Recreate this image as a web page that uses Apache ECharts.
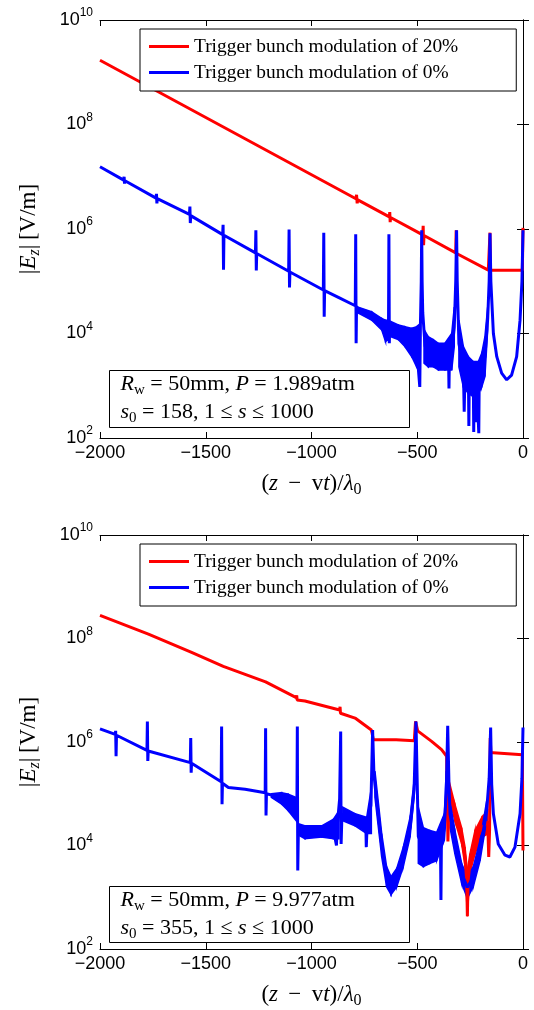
<!DOCTYPE html>
<html><head><meta charset="utf-8">
<script src="https://cdn.jsdelivr.net/npm/echarts@6.0.0/dist/echarts.min.js"></script>
<style>html,body{margin:0;padding:0;background:#fff}#c{width:534px;height:1010px}</style>
</head><body><div id="c"></div>
<script>
// ---------------- data ----------------
const seriesNames = ['Trigger bunch modulation of 20%', 'Trigger bunch modulation of 0%'];
const xTickStep = 500;
const pressures = ['1.989', '9.977'];
const s0Values = ['158', '355'];

const topRed = [
  [-2000, 1.7e9],
  [-790, 3.8e6], [-787, 4.5e6], [-784, 3.1e6], [-781, 3.6e6],
  [-632, 1.71e6], [-630, 2.1e6], [-628, 1.35e6], [-626, 1.66e6],
  [-474, 7.7e5], [-472, 1.15e6], [-470, 4.9e5], [-468, 7.5e5],
  [-318, 3.5e5], [-316, 9.5e5], [-314, 3.4e5], [-312, 3.4e5],
  [-164, 1.63e5],
  [-158, 1.63e5], [-156, 8.5e5], [-154, 1.63e5],
  [-3, 1.63e5], [0, 1.05e6]
];
const topBlue = [
  [-2000, 1.55e7],
  [-1888, 8.6e6], [-1886, 1.0e7], [-1884, 7.4e6], [-1882, 8.4e6],
  [-1735, 3.9e6], [-1733, 4.7e6], [-1731, 3.1e6], [-1729, 3.8e6],
  [-1577, 1.9e6], [-1575, 2.7e6], [-1573, 1.3e6], [-1571, 1.8e6],
  [-1420, 7.8e5], [-1418, 1.2e6], [-1416, 1.66e5], [-1414, 7.6e5],
  [-1265, 3.5e5], [-1263, 9.5e5], [-1261, 1.6e5], [-1259, 3.4e5],
  [-1108, 1.55e5], [-1106, 9.8e5], [-1104, 7.6e4], [-1102, 1.5e5],
  [-944, 6.8e4], [-942, 8.5e5], [-940, 2.1e4], [-938, 6.6e4],
  [-873, 4.9e4],
  [-793, 3.4e4], [-791, 7.9e5], [-789, 6.5e3], [-787, 3.3e4],
  [-779, 2.8e4], [-715, 2.3e4], [-668, 1.5e4], [-650, 1.1e4],
  [-636, 1.2e4], [-634, 7.9e5], [-632, 6.5e3], [-630, 1.4e4],
  [-621, 1.3e4], [-589, 1.1e4], [-558, 9e3], [-526, 7e3], [-503, 5.5e3],
  [-488, 9.5e2], [-485, 1.5e4], [-481, 1e5], [-479, 9.5e5], [-477, 1e5], [-474, 2.5e4],
  [-463, 5.7e3], [-448, 4.5e3], [-424, 4.2e3], [-400, 3.6e3], [-369, 3.6e3],
  [-352, 3.4e3], [-350, 8.9e2], [-348, 3.4e3],
  [-337, 4.5e3], [-325, 1.3e4], [-318, 1e5], [-314, 9.5e5], [-311, 1e5], [-303, 6.4e3],
  [-282, 2.3e3], [-278, 3.2e2], [-274, 2.0e3], [-258, 1.5e3], [-256, 1.7e2], [-254, 1.5e3],
  [-235, 1.35e3], [-233, 1.3e2], [-231, 1.35e3], [-224, 1.4e3], [-222, 2e2], [-220, 1.4e3],
  [-211, 1.4e3], [-209, 1.23e2], [-207, 1.5e3],
  [-195, 2e3], [-180, 3.6e3], [-167, 1.9e4], [-160, 1e5], [-156, 8.3e5], [-152, 1e5],
  [-140, 1e4], [-124, 3.6e3], [-101, 1.74e3], [-77, 1.3e3], [-54, 1.6e3], [-30, 3.6e3],
  [-14, 1.8e4], [-5, 1e5], [0, 9.5e5]
];
const topBlueBands = [
  [[-779, 2.45e4, 3.2e4], [-715, 1.8e4, 2.6e4], [-668, 1.17e4, 1.95e4], [-650, 7e3, 1.8e4], [-640, 7.5e3, 1.8e4]],
  [[-625, 8.7e3, 1.7e4], [-589, 7.6e3, 1.45e4], [-558, 5.6e3, 1.35e4], [-526, 3.6e3, 1.26e4], [-503, 2.3e3, 1.35e4], [-490, 2.0e3, 1.5e4]],
  [[-468, 2.7e3, 1.2e4], [-448, 2.3e3, 8.7e3], [-424, 2.3e3, 7.6e3], [-400, 2.0e3, 6.5e3], [-369, 2.0e3, 6.5e3], [-337, 2.0e3, 1.0e4], [-325, 5.6e3, 3.2e4]],
  [[-303, 2.3e3, 1.8e4], [-282, 9.5e2, 5.6e3], [-258, 7.1e2, 3.6e3], [-235, 6.2e2, 2.9e3], [-211, 7.1e2, 2.9e3], [-195, 9.5e2, 4.2e3], [-180, 1.5e3, 8.7e3], [-167, 1.17e4, 3.2e4]]
];

const bottomRed = [
  [-2000, 2.8e8], [-1771, 1.22e8], [-1567, 5.4e7], [-1417, 2.9e7], [-1217, 1.45e7],
  [-1072, 7.2e6], [-1070, 8e6], [-1068, 6.5e6],
  [-1031, 6.2e6],
  [-867, 4.15e6], [-865, 4.8e6], [-863, 3.6e6],
  [-794, 2.9e6], [-717, 1.7e6], [-713, 1.45e6], [-708, 1.1e6],
  [-600, 1.1e6], [-514, 1.06e6], [-508, 2.5e6], [-498, 1.64e6],
  [-432, 1.03e6], [-385, 7.1e5], [-361, 5.3e5], [-355, 1.2e4], [-349, 1.2e5],
  [-345, 1.0e5], [-322, 4.4e4], [-290, 1.45e4], [-274, 6e3], [-266, 2e3], [-263, 4.3e2], [-260, 2e3],
  [-251, 4.5e3], [-227, 1.1e4], [-195, 2.2e4], [-167, 2.9e4], [-162, 6e3], [-158, 2e4], [-155, 1.2e6], [-152, 6.2e5],
  [-140, 6.2e5], [-3, 5.7e5], [0, 8e3]
];
const bottomRedBands = [
  [[-345, 7.2e4, 1.5e5], [-322, 3.0e4, 6.3e4], [-290, 1.07e4, 2.2e4], [-274, 3.9e3, 9.3e3], [-263, 4.3e2, 3.3e3], [-251, 2.9e3, 6.9e3], [-227, 6.9e3, 1.95e4], [-195, 1.45e4, 3.5e4], [-167, 1.66e4, 4.7e4]]
];
const bottomBlue = [
  [-2000, 1.8e6],
  [-1928, 1.4e6], [-1926, 1.64e6], [-1924, 5.3e5], [-1922, 1.35e6],
  [-1778, 6.9e5], [-1776, 2.5e6], [-1774, 4.3e5], [-1772, 6.7e5],
  [-1573, 4.0e5], [-1571, 1.19e6], [-1569, 2.55e5], [-1567, 3.9e5],
  [-1427, 1.7e5], [-1425, 2.0e6], [-1423, 6.3e4], [-1421, 1.6e5],
  [-1393, 1.32e5], [-1314, 1.22e5],
  [-1219, 1.05e5], [-1217, 1.85e6], [-1215, 3.8e4], [-1213, 1.0e5],
  [-1173, 9.1e4], [-1141, 8.1e4], [-1110, 6.8e4], [-1078, 5.0e4],
  [-1069, 6.0e4], [-1067, 2.0e6], [-1065, 3.3e3], [-1062, 2.0e4],
  [-1031, 1.8e4], [-952, 1.87e4], [-897, 2.1e4], [-882, 1.0e4], [-878, 2.5e4], [-867, 8e4], [-862, 1.6e6], [-860, 1.07e4], [-856, 4e4],
  [-794, 3.1e4], [-743, 2.4e4], [-741, 9.3e3], [-737, 2.4e4], [-719, 6e4], [-711, 1.7e6], [-705, 2.5e5],
  [-700, 1.5e5], [-668, 1e4], [-645, 2.5e3], [-624, 1.7e3], [-597, 2.4e3], [-566, 6e3], [-534, 2.2e4], [-515, 1.2e5], [-506, 2.5e6], [-500, 1.5e5],
  [-495, 1.5e4], [-471, 9e3], [-440, 9e3], [-408, 9.5e3], [-390, 9.5e3], [-388, 8.9e2], [-386, 9.5e3], [-372, 2.3e4], [-363, 1e5], [-356, 2.05e6], [-350, 1.5e5],
  [-345, 4e4], [-322, 1.2e4], [-290, 2.9e3], [-263, 1.55e3], [-235, 2.5e3], [-203, 8e3], [-172, 4.6e4], [-160, 2e5], [-153, 1.9e6], [-148, 1.5e5],
  [-140, 4.1e4], [-117, 1.07e4], [-85, 6.5e3], [-62, 6e3], [-38, 9.3e3], [-14, 4.1e4], [-5, 2e5], [0, 1.9e6]
];
const bottomBlueBands = [
  [[-1190, 8.5e4, 1.0e5], [-1141, 6.3e4, 1.05e5], [-1110, 4.7e4, 9.8e4], [-1072, 3.0e4, 8.5e4]],
  [[-1058, 1.56e4, 2.6e4], [-1031, 1.35e4, 2.4e4], [-952, 1.45e4, 2.4e4], [-897, 1.35e4, 3.2e4], [-870, 1.35e4, 4.7e4]],
  [[-852, 3.0e4, 5.5e4], [-794, 2.4e4, 4.1e4], [-739, 1.7e4, 3.5e4], [-717, 1.7e4, 1.3e5]],
  [[-700, 8.5e4, 2.75e5], [-668, 6e3, 1.7e4], [-645, 1.6e3, 3.9e3], [-624, 1.12e3, 2.5e3], [-597, 1.6e3, 3.6e3], [-566, 3.9e3, 9.3e3], [-534, 1.45e4, 3.5e4], [-515, 8.5e4, 1.8e5]],
  [[-495, 4.5e3, 5.5e4], [-471, 3.9e3, 2.2e4], [-440, 4.5e3, 1.95e4], [-408, 5.1e3, 1.8e4], [-372, 1.26e4, 4.1e4], [-363, 4.1e4, 2.75e5]],
  [[-345, 2.2e4, 7.2e4], [-322, 6.9e3, 1.95e4], [-290, 1.86e3, 4.5e3], [-263, 9.5e2, 2.5e3], [-235, 1.6e3, 3.9e3], [-203, 5.1e3, 1.26e4], [-172, 3.0e4, 7.2e4]]
];

// ---------------- chart ----------------
const RED = '#ff0000', BLUE = '#0000ff';
const SERIF = "'Liberation Serif', 'DejaVu Serif', serif";
const SANS = "'Liberation Sans', Arial, sans-serif";
const grids = [
  { left: 100, right: 11, top: 20, height: 418 },
  { left: 100, right: 11, top: 535, height: 418 }
];
const mathRich = {
  n: { fontFamily: SERIF, fontSize: 23, color: '#000', lineHeight: 28 },
  i: { fontFamily: SERIF, fontSize: 23, fontStyle: 'italic', color: '#000', lineHeight: 28 },
  sub: { fontFamily: SERIF, fontSize: 16, color: '#000', lineHeight: 16, verticalAlign: 'bottom' },
  isub: { fontFamily: SERIF, fontSize: 16, fontStyle: 'italic', color: '#000', lineHeight: 16, verticalAlign: 'bottom' }
};
function fmtX(v) { return v < 0 ? '\u2212' + Math.abs(v) : String(v); }
function fmtY(v) { return '{b|10}{s|' + Math.round(Math.log10(v)) + '}'; }

const xAxes = [], yAxes = [];
grids.forEach((g, gi) => {
  xAxes.push({
    type: 'value', gridIndex: gi, min: -2000, max: 0, interval: xTickStep, position: 'bottom',
    axisLine: { lineStyle: { color: '#000', width: 1 } },
    axisTick: { inside: true, length: 6, lineStyle: { color: '#000' } },
    splitLine: { show: false },
    axisLabel: { formatter: fmtX, fontFamily: SANS, fontSize: 18, color: '#000', margin: 6 },
    name: '{n|(}{i|z}{n| \u2009\u2212\u2009 v}{i|t}{n|)/}{i|\u03bb}{sub|0}', nameLocation: 'middle', nameGap: 32,
    nameTextStyle: { rich: mathRich }
  });
  xAxes.push({
    type: 'value', gridIndex: gi, min: -2000, max: 0, interval: xTickStep, position: 'top',
    axisLine: { lineStyle: { color: '#000', width: 1 } },
    axisTick: { inside: true, length: 6, lineStyle: { color: '#000' } },
    splitLine: { show: false }, axisLabel: { show: false }
  });
  yAxes.push({
    type: 'log', logBase: 10, gridIndex: gi, min: 100, max: 1e10, interval: 2, position: 'left',
    axisLine: { lineStyle: { color: '#000', width: 1 } },
    axisTick: { inside: true, length: 6, lineStyle: { color: '#000' } },
    splitLine: { show: false }, minorTick: { show: false },
    axisLabel: { formatter: fmtY, margin: 7, rich: {
      b: { fontFamily: SANS, fontSize: 18, color: '#000', lineHeight: 26 },
      s: { fontFamily: SANS, fontSize: 12, color: '#000', lineHeight: 12, verticalAlign: 'top' } } },
    name: '{n||}{i|E}{isub|z}{n||\u2009[V/m]}', nameLocation: 'middle', nameGap: 57, nameRotate: 90,
    nameTextStyle: { rich: mathRich }
  });
  yAxes.push({
    type: 'log', logBase: 10, gridIndex: gi, min: 100, max: 1e10, interval: 2, position: 'right',
    axisLine: { lineStyle: { color: '#000', width: 1 } },
    axisTick: { inside: true, length: 6, lineStyle: { color: '#000' } },
    splitLine: { show: false }, axisLabel: { show: false }
  });
});

function quads(bands) {
  const out = [];
  bands.forEach(b => { for (let i = 0; i < b.length - 1; i++) out.push([b[i][0], b[i][1], b[i][2], b[i + 1][0], b[i + 1][1], b[i + 1][2]]); });
  return out;
}
function bandSeries(name, bands, gi, color) {
  return {
    name: name, type: 'custom', xAxisIndex: gi * 2, yAxisIndex: gi * 2, clip: true, silent: true,
    data: quads(bands), encode: { x: [0, 3], y: [1, 2, 4, 5] },
    renderItem: function (params, api) {
      const p = [api.coord([api.value(0), api.value(2)]), api.coord([api.value(3), api.value(5)]),
                 api.coord([api.value(3), api.value(4)]), api.coord([api.value(0), api.value(1)])];
      return { type: 'polygon', shape: { points: p }, style: { fill: color, stroke: color, lineWidth: 1.5 } };
    }
  };
}
function lineSeries(name, data, gi, color) {
  return {
    name: name, type: 'line', xAxisIndex: gi * 2, yAxisIndex: gi * 2, data: data, color: color,
    showSymbol: false, symbol: 'none', clip: true, sampling: null,
    lineStyle: { color: color, width: 3, join: 'bevel' }
  };
}
const series = [
  lineSeries(seriesNames[0], topRed, 0, RED),
  bandSeries('topBlueBand', topBlueBands, 0, BLUE),
  lineSeries(seriesNames[1], topBlue, 0, BLUE),
  lineSeries(seriesNames[0], bottomRed, 1, RED),
  bandSeries('bottomRedBand', bottomRedBands, 1, RED),
  bandSeries('bottomBlueBand', bottomBlueBands, 1, BLUE),
  lineSeries(seriesNames[1], bottomBlue, 1, BLUE)
];
function legendAt(top) {
  return {
    left: 140, top: top, orient: 'vertical', selectedMode: false,
    itemWidth: 40, itemHeight: 3, itemGap: 7, padding: [8, 58, 9, 9],
    borderColor: '#000', borderWidth: 1, backgroundColor: '#fff',
    data: seriesNames.map(n => ({ name: n, icon: 'rect' })),
    textStyle: { fontFamily: SERIF, fontSize: 19.4, color: '#000' }
  };
}
const noteRich = {
  n: { fontFamily: SERIF, fontSize: 22, fill: '#000', lineHeight: 26 },
  i: { fontFamily: SERIF, fontSize: 22, fontStyle: 'italic', fill: '#000', lineHeight: 26 },
  sub: { fontFamily: SERIF, fontSize: 15, fill: '#000', lineHeight: 14, verticalAlign: 'bottom' }
};
function noteGroup(top, h, gi) {
  return {
    type: 'group', left: 109, top: top, children: [
      { type: 'rect', shape: { x: 0, y: 0, width: 300, height: h }, style: { fill: '#fff', stroke: '#000', lineWidth: 1 } },
      { type: 'text', x: 11, y: 14, style: { text: '{i|R}{sub|w}{n| = 50mm, }{i|P}{n| = ' + pressures[gi] + 'atm}', rich: noteRich, verticalAlign: 'middle' } },
      { type: 'text', x: 11, y: 42, style: { text: '{i|s}{sub|0}{n| = ' + s0Values[gi] + ', 1 \u2264 }{i|s}{n| \u2264 1000}', rich: noteRich, verticalAlign: 'middle' } }
    ]
  };
}
const chart = echarts.init(document.getElementById('c'), null, { renderer: 'canvas' });
chart.setOption({
  animation: false,
  backgroundColor: '#fff',
  grid: grids,
  xAxis: xAxes,
  yAxis: yAxes,
  legend: [legendAt(29), legendAt(544)],
  series: series,
  graphic: [noteGroup(370, 57, 0), noteGroup(886, 56, 1)]
});
</script></body></html>
